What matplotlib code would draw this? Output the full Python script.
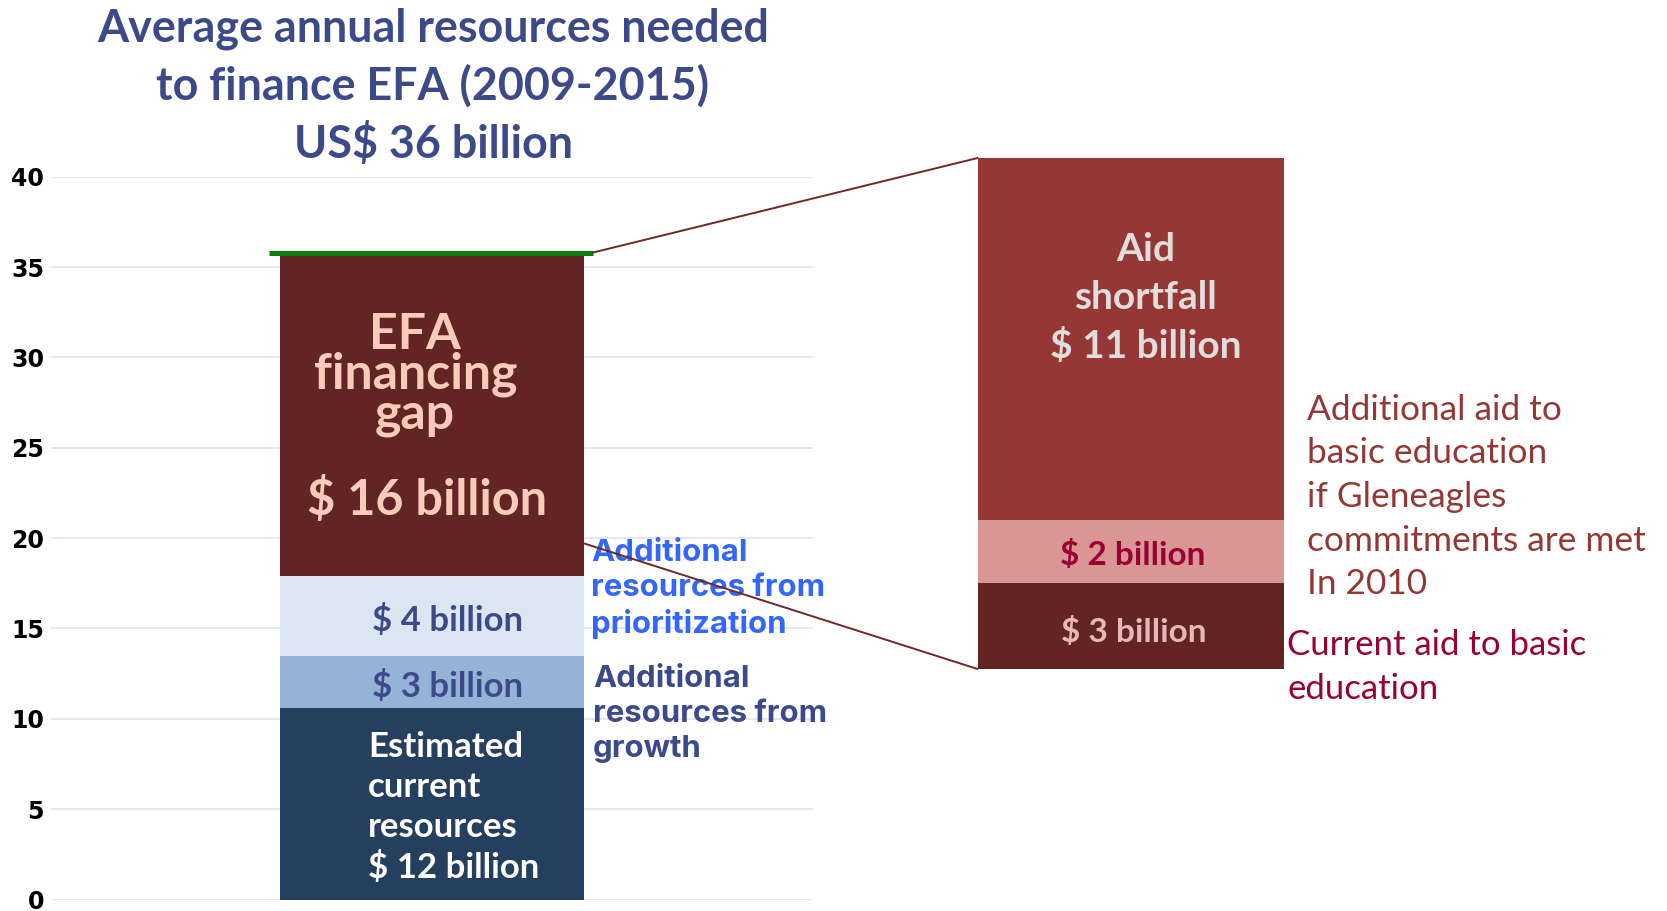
import numpy as np
import matplotlib
matplotlib.use("Agg")
import matplotlib.pyplot as plt
from matplotlib.patches import ConnectionPatch

# left stacked bar (US$ billion, as drawn)
segments = ["current", "growth", "prioritization", "gap"]
seg_values = [10.6, 2.9, 4.4, 17.9]
seg_colors = ["#253F5F", "#95B3D7", "#DCE6F2", "#632523"]

# right zoom bar: breakdown of the financing gap
aid_parts = ["current aid", "gleneagles", "shortfall"]
aid_values = [2.7, 1.95, 11.35]
aid_colors = ["#632523", "#D99694", "#953735"]

yticks = [0, 5, 10, 15, 20, 25, 30, 35, 40]
gap_connect = 19.7   # where the lower connector leaves the gap block

W, H = 1667, 911
fig = plt.figure(figsize=(W / 100, H / 100), dpi=100)

ax = fig.add_axes([51 / W, 1 - 899.5 / H, 762 / W, (899.5 - 176.7) / H])
ax.set_xlim(0, 1)
ax.set_ylim(0, 40)
ax.set_yticks(yticks)
ax.set_yticklabels([str(t) for t in yticks], fontsize=17, fontweight="bold",
                   color="black", family="DejaVu Sans")
ax.tick_params(axis="y", length=0, pad=5)
ax.set_xticks([])
for s in ax.spines.values():
    s.set_visible(False)
ax.grid(axis="y", color="#E3E3EF", linewidth=1.2)
ax.set_axisbelow(True)

bottoms = np.concatenate([[0], np.cumsum(seg_values)[:-1]])
ax.bar(0.5, seg_values, width=0.4, bottom=bottoms, color=seg_colors,
       linewidth=0, zorder=2)
top = bottoms[-1] + seg_values[-1]
ax.plot([0.286, 0.711], [top, top], color="#0A820A", linewidth=3.6,
        solid_capstyle="butt", zorder=3)

calibri = "Lato"
mid = bottoms + np.array(seg_values) / 2
ax.text(0.478, mid[3] + 2.2, "EFA\nfinancing\ngap", ha="center", va="center",
        fontsize=36, fontweight="bold", color="#F9CBBB", family=calibri,
        linespacing=0.85, zorder=4)
ax.text(0.494, mid[3] - 4.7, "$ 16 billion", ha="center", va="center",
        fontsize=35, fontweight="bold", color="#F9CBBB", family=calibri, zorder=4)
ax.text(0.521, mid[2] - 0.25, "$ 4 billion", ha="center", va="center", fontsize=25,
        fontweight="bold", color="#3D4A8A", family=calibri, zorder=4)
ax.text(0.520, mid[1] - 0.25, "$ 3 billion", ha="center", va="center", fontsize=25,
        fontweight="bold", color="#3D4A8A", family=calibri, zorder=4)
ax.text(0.416, mid[0] - 0.2, "Estimated\ncurrent\nresources\n$ 12 billion",
        ha="left", va="center", fontsize=25, fontweight="bold", color="white",
        family=calibri, linespacing=1.3, zorder=4)

# zoomed bar on the right
ax2 = fig.add_axes([977.6 / W, 1 - 669 / H, 306 / W, 511 / H])
ax2.set_xlim(0, 1)
ax2.set_ylim(0, sum(aid_values))
ax2.axis("off")
b2 = np.concatenate([[0], np.cumsum(aid_values)[:-1]])
ax2.bar(0.5, aid_values, width=1, bottom=b2, color=aid_colors, linewidth=0)
m2 = b2 + np.array(aid_values) / 2
ax2.text(0.55, 11.62, "Aid\nshortfall\n$ 11 billion", ha="center", va="center",
         fontsize=28, fontweight="bold", color="#E2DDDD", family=calibri,
         linespacing=1.45)
ax2.text(0.508, m2[1] - 0.12, "$ 2 billion", ha="center", va="center", fontsize=24,
         fontweight="bold", color="#990033", family=calibri)
ax2.text(0.51, m2[0] - 0.2, "$ 3 billion", ha="center", va="center", fontsize=24,
         fontweight="bold", color="#E6B9B8", family=calibri)

# connector lines
for ya, yb in [(top, sum(aid_values)), (gap_connect, 0)]:
    xa = 0.711 if ya == top else 0.7
    con = ConnectionPatch(xyA=(xa, ya), coordsA=ax.transData,
                          xyB=(0, yb), coordsB=ax2.transData,
                          color="#6B2A24", linewidth=1.4, zorder=5)
    fig.add_artist(con)

# title
fig.text(433 / W, 1 - 86.5 / H,
         "Average annual resources needed\nto finance EFA (2009-2015)\nUS$ 36 billion",
         ha="center", va="center", fontsize=32.3, fontweight="bold",
         color="#3D4A8A", family=calibri, linespacing=1.4)

# side annotations
fig.text(591 / W, 1 - 589 / H, "Additional\nresources from\nprioritization",
         ha="left", va="center", fontsize=22.4, fontweight="bold",
         color="#3366FF", family="Inter", linespacing=1.3)
fig.text(593 / W, 1 - 714 / H, "Additional\nresources from\ngrowth",
         ha="left", va="center", fontsize=22.4, fontweight="bold",
         color="#3B4A8A", family="Inter", linespacing=1.3)
fig.text(1307 / W, 1 - 497 / H,
         "Additional aid to\nbasic education\nif Gleneagles\ncommitments are met\nIn 2010",
         ha="left", va="center", fontsize=25.4, color="#953735", family=calibri,
         linespacing=1.45)
fig.text(1287 / W, 1 - 667 / H, "Current aid to basic\neducation",
         ha="left", va="center", fontsize=25, color="#990033", family=calibri,
         linespacing=1.45)

fig.savefig("out.png", dpi=100)
